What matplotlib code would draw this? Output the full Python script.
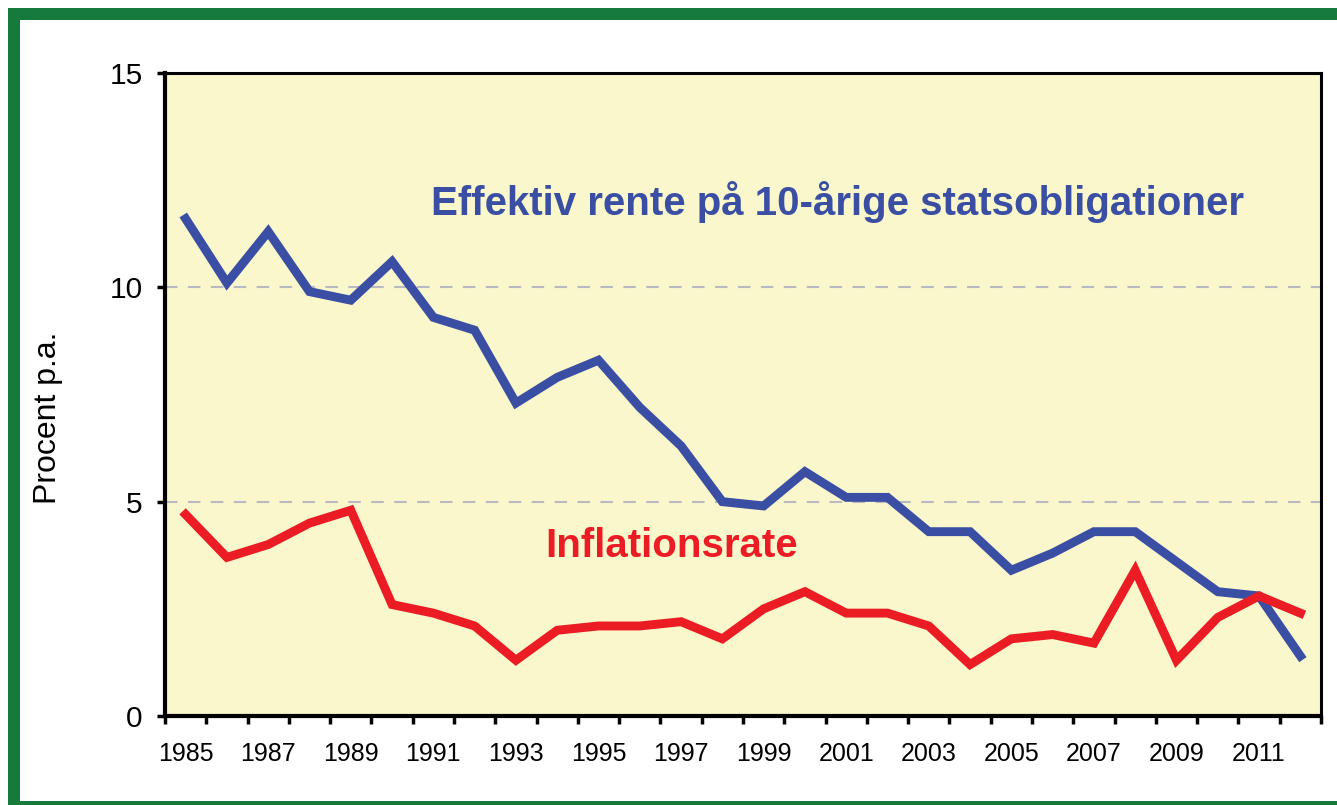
import matplotlib
matplotlib.use("Agg")
import matplotlib.pyplot as plt
from matplotlib.patches import Rectangle

years = list(range(1985, 2013))
rente = [11.6, 10.1, 11.3, 9.9, 9.7, 10.6, 9.3, 9.0, 7.3, 7.9, 8.3,
         7.2, 6.3, 5.0, 4.9, 5.7, 5.1, 5.1, 4.3, 4.3, 3.4, 3.8, 4.3, 4.3,
         3.6, 2.9, 2.8, 1.4]
inflation = [4.7, 3.7, 4.0, 4.5, 4.8, 2.6, 2.4, 2.1, 1.3, 2.0, 2.1,
             2.1, 2.2, 1.8, 2.5, 2.9, 2.4, 2.4, 2.1, 1.2, 1.8, 1.9, 1.7, 3.4,
             1.3, 2.3, 2.8, 2.4]
yticks = [0, 5, 10, 15]
label_rente = "Effektiv rente på 10-årige statsobligationer"
label_infl = "Inflationsrate"
ylabel = "Procent p.a."

BLUE = "#3a4fa3"
RED = "#ec1c24"
GREEN = "#157a3c"
BG = "#faf7cc"
FAM = ["Liberation Sans", "DejaVu Sans"]

W, H = 1337, 805
fig = plt.figure(figsize=(W / 100, H / 100), dpi=100)
fig.patch.set_facecolor("white")

# green frame
def px_rect(x0, y0, x1, y1):
    return Rectangle((x0 / W, 1 - y1 / H), (x1 - x0) / W, (y1 - y0) / H,
                     transform=fig.transFigure, facecolor=GREEN,
                     edgecolor="none", zorder=0)
fig.patches.append(px_rect(8, 8, W, 20))
fig.patches.append(px_rect(8, 8, 20, H))
fig.patches.append(px_rect(8, 801, W, H))

left, right, top, bottom = 165, 1321, 73, 716
ax = fig.add_axes([left / W, 1 - bottom / H, (right - left) / W, (bottom - top) / H])
ax.set_facecolor(BG)

x = list(range(len(years)))
ax.plot(x, rente, color=BLUE, lw=6.4, solid_joinstyle="miter", zorder=3)
ax.plot(x, inflation, color=RED, lw=6.4, solid_joinstyle="miter", zorder=3)

ax.set_xlim(-0.5, len(years) - 0.5)
ax.set_ylim(0, 15)

for v in [5, 10]:
    ax.axhline(v, color="#b9b9c2", lw=1.5, ls=(0, (6, 5)), zorder=1)

# y axis
ax.set_yticks(yticks)
ax.set_yticklabels([str(v) for v in yticks], fontsize=21.5, family=FAM)
ax.tick_params(axis="y", which="major", direction="out", length=6,
               width=2.5, pad=10, colors="black")

# x axis: ticks at category boundaries, labels at centres
ax.set_xticks([i - 0.5 for i in range(len(years) + 1)])
ax.set_xticklabels([])
ax.tick_params(axis="x", which="major", direction="out", length=6,
               width=2.5)
ax.set_xticks(x, minor=True)
ax.set_xticklabels([str(y) if (y - 1985) % 2 == 0 else "" for y in years],
                   minor=True, fontsize=18, family=FAM)
ax.tick_params(axis="x", which="minor", length=0, pad=19)

for s in ["left", "bottom"]:
    ax.spines[s].set_linewidth(3)
for s in ["top", "right"]:
    ax.spines[s].set_linewidth(2.2)

ax.set_ylabel(ylabel, fontsize=23, family=FAM)
ax.yaxis.set_label_coords(-0.0885, 0.463)

ax.text(0.582, 0.779, label_rente, transform=ax.transAxes, ha="center",
        va="baseline", color=BLUE, fontsize=29, fontweight="bold",
        family=FAM, zorder=4)
ax.text(0.4386, 0.247, label_infl, transform=ax.transAxes, ha="center",
        va="baseline", color=RED, fontsize=29, fontweight="bold",
        family=FAM, zorder=4)

fig.savefig("out.png", dpi=100, facecolor="white")
